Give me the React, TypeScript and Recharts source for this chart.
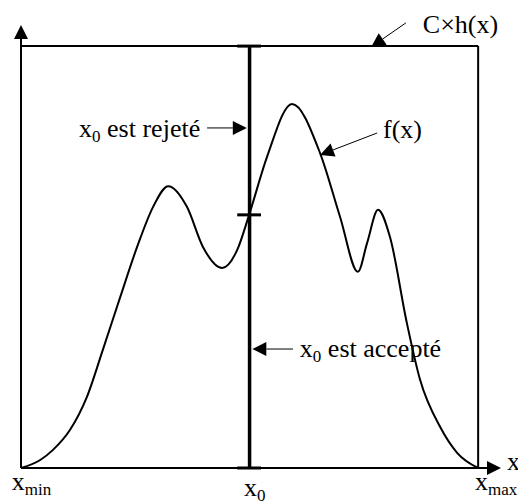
import React from "react";
import { ComposedChart, Line, XAxis, YAxis, ReferenceLine, ReferenceDot } from "recharts";

// f(x) (x: 0..100 from x_min to x_max, y: 0..100 with C×h(x) = 100)
const fx = [0, 4.2, 7.0, 10.7, 14.4, 17.9, 21.7, 25.4, 28.9, 32.2, 36.3, 39.8, 44.0, 47.3, 49.9, 53.8, 59.3, 65.4, 69.8, 73.7, 75.7, 78.1, 80.7, 84.4, 87.3, 91.7, 95.4, 100];
const fy = [0, 1.9, 4.3, 9.0, 16.8, 28.0, 40.5, 52.4, 61.9, 66.8, 61.9, 52.4, 47.4, 51.7, 60.0, 73.7, 86.3, 74.7, 59.5, 46.5, 53.3, 61.2, 54.8, 34.4, 20.9, 9.7, 3.6, 0];

const xMin = 0;
const xMax = 100;
const envelope = 100; // C×h(x)
const x0 = 50;
const fAtX0 = 60;

const data = fx.map((x, i) => ({ x, f: fy[i] }));

const FONT = "'Liberation Serif', 'Times New Roman', serif";
const FS = 26;
const SUB = 17;

const ArrowShape = (props: any) => {
  const { x1, y1, x2, y2, strokeWidth = 2 } = props;
  const a = Math.atan2(y2 - y1, x2 - x1);
  const L = 14;
  const W = 7;
  const bx = x2 - L * Math.cos(a);
  const by = y2 - L * Math.sin(a);
  const px = -Math.sin(a) * W;
  const py = Math.cos(a) * W;
  return (
    <g>
      <line x1={x1} y1={y1} x2={bx} y2={by} stroke="#000" strokeWidth={strokeWidth} />
      <polygon points={`${x2},${y2} ${bx + px},${by + py} ${bx - px},${by - py}`} fill="#000" />
    </g>
  );
};

const txt = (main: string, sub?: string, rest?: string, anchor: string = "start") => (p: any) => (
  <text x={p.cx} y={p.cy} fontFamily={FONT} fontSize={FS} fill="#000" textAnchor={anchor}>
    <tspan>{main}</tspan>
    {sub ? (
      <tspan fontSize={SUB} dy={5}>
        {sub}
      </tspan>
    ) : null}
    {rest ? <tspan dy={sub ? -5 : 0}>{rest}</tspan> : null}
  </text>
);

const seg = (ax: number, ay: number, bx: number, by: number) => [
  { x: ax, y: ay },
  { x: bx, y: by },
];

export default function App() {
  return (
    <div style={{ position: "absolute", left: 0, top: 0 }}>
      <ComposedChart width={518} height={502} data={data} margin={{ top: 25, right: 17, bottom: 34, left: 21 }}>
        <XAxis type="number" dataKey="x" domain={[0, 105]} hide />
        <YAxis type="number" domain={[0, 105]} hide />

        {/* axes with arrows */}
        <ReferenceLine segment={seg(xMin, 0, 105, 0)} ifOverflow="visible" shape={(p: any) => <ArrowShape {...p} strokeWidth={2} />} />
        <ReferenceLine segment={seg(xMin, 0, xMin, 105)} ifOverflow="visible" shape={(p: any) => <ArrowShape {...p} strokeWidth={2} />} />

        {/* envelope C×h(x) */}
        <ReferenceLine segment={seg(xMin, envelope, xMax, envelope)} stroke="#000" strokeWidth={2} ifOverflow="visible" />
        <ReferenceLine segment={seg(xMax, 0, xMax, envelope)} stroke="#000" strokeWidth={2} ifOverflow="visible" />

        {/* x0 line and ticks */}
        <ReferenceLine segment={seg(x0, 0, x0, envelope)} stroke="#000" strokeWidth={3.5} ifOverflow="visible" />
        <ReferenceLine segment={seg(x0 - 2.7, envelope, x0 + 2.5, envelope)} stroke="#000" strokeWidth={3} ifOverflow="visible" />
        <ReferenceLine segment={seg(x0 - 2.7, fAtX0, x0 + 2.5, fAtX0)} stroke="#000" strokeWidth={3} ifOverflow="visible" />
        <ReferenceLine segment={seg(x0 - 2.7, 0, x0 + 2.5, 0)} stroke="#000" strokeWidth={3} ifOverflow="visible" />

        <Line type="monotone" dataKey="f" stroke="#000" strokeWidth={2} dot={false} isAnimationActive={false} />

        {/* annotation arrows */}
        <ReferenceLine segment={seg(40.7, 80.6, 49.4, 80.6)} ifOverflow="visible" shape={(p: any) => <ArrowShape {...p} />} />
        <ReferenceLine segment={seg(59.5, 28.2, 50.6, 28.2)} ifOverflow="visible" shape={(p: any) => <ArrowShape {...p} />} />
        <ReferenceLine segment={seg(77.9, 79.4, 65.4, 74.2)} ifOverflow="visible" shape={(p: any) => <ArrowShape {...p} />} />
        <ReferenceLine segment={seg(84.2, 105.5, 76.6, 99.8)} ifOverflow="visible" shape={(p: any) => <ArrowShape {...p} />} />

        {/* labels */}
        <ReferenceDot x={39.2} y={78.5} ifOverflow="visible" shape={txt("x", "0", " est rejeté", "end")} />
        <ReferenceDot x={61.0} y={26.3} ifOverflow="visible" shape={txt("x", "0", " est accepté")} />
        <ReferenceDot x={79.2} y={78.2} ifOverflow="visible" shape={txt("f(x)")} />
        <ReferenceDot x={87.9} y={103.1} ifOverflow="visible" shape={txt("C×h(x)")} />
        <ReferenceDot x={-2.0} y={-5.2} ifOverflow="visible" shape={txt("x", "min")} />
        <ReferenceDot x={48.8} y={-6.6} ifOverflow="visible" shape={txt("x", "0")} />
        <ReferenceDot x={99.3} y={-5.2} ifOverflow="visible" shape={txt("x", "max")} />
        <ReferenceDot x={106.3} y={-0.5} ifOverflow="visible" shape={txt("x")} />
      </ComposedChart>
    </div>
  );
}
